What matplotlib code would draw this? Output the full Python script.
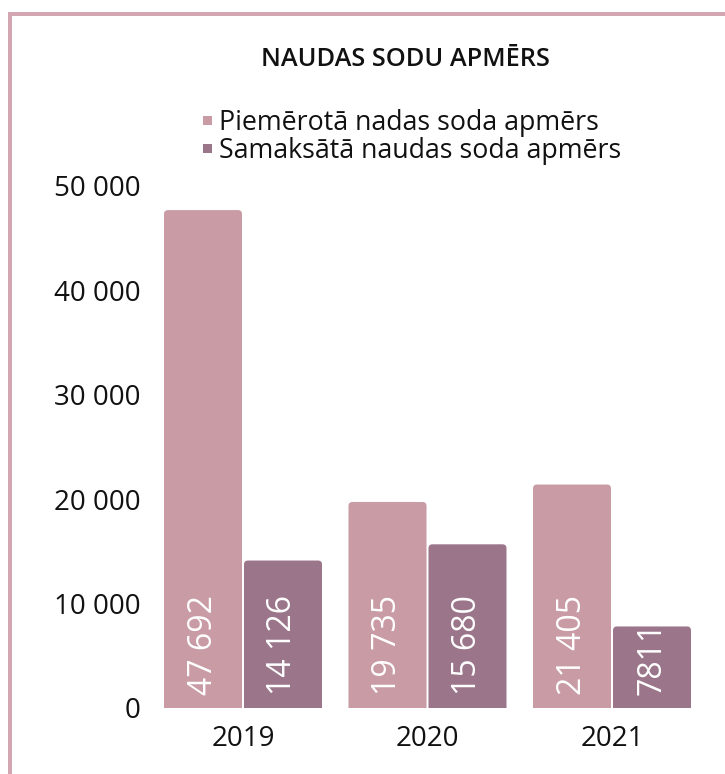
import matplotlib
matplotlib.use("Agg")
import matplotlib.pyplot as plt
from matplotlib.patches import FancyBboxPatch, Rectangle
from matplotlib.lines import Line2D
import numpy as np

years = ["2019", "2020", "2021"]
series_names = ["Piemērotā nadas soda apmērs", "Samaksātā naudas soda apmērs"]
applied = [47692, 19735, 21405]
paid = [14126, 15680, 7811]
applied_labels = ["47 692", "19 735", "21 405"]
paid_labels = ["14 126", "15 680", "7811"]
yticks = [0, 10000, 20000, 30000, 40000, 50000]
ytick_labels = ["0", "10 000", "20 000", "30 000", "40 000", "50 000"]
title = "NAUDAS SODU APMĒRS"

C_APPLIED = "#c89ba5"
C_PAID = "#9b768a"
C_BORDER = "#d3a7b1"
colors = [C_APPLIED, C_PAID]

plt.rcParams["font.family"] = ["Open Sans", "DejaVu Sans"]

W, H = 725, 774
fig = plt.figure(figsize=(W / 100, H / 100), dpi=100)
ax = fig.add_axes([150.75 / W, (H - 708) / H, 553.5 / W, 522 / H])

x = np.arange(len(years))
bw = 0.4228
off = 0.2168
bars1 = ax.bar(x - off, applied, bw, color=C_APPLIED, label=series_names[0])
bars2 = ax.bar(x + off, paid, bw, color=C_PAID, label=series_names[1])

ax.set_xlim(-0.5, 2.5)
ax.set_ylim(0, 50000)

# rounded top corners
rx = 4 / 184.5
ry = 4 * 50000 / 522
for cont in (bars1, bars2):
    for r in cont:
        bx, by = r.get_x(), r.get_y()
        w, h = r.get_width(), r.get_height()
        p = FancyBboxPatch((bx, by - 2 * ry), w, h + 2 * ry,
                           boxstyle=f"round,pad=0,rounding_size={rx}",
                           mutation_aspect=ry / rx,
                           facecolor=r.get_facecolor(), edgecolor="none",
                           clip_on=True)
        ax.add_patch(p)
        r.set_visible(False)

# value labels
for cont, labs in ((bars1, applied_labels), (bars2, paid_labels)):
    for r, lab in zip(cont, labs):
        ax.annotate(lab, (r.get_x() + r.get_width() / 2, 0),
                    xytext=(0, 9.5), textcoords="offset points",
                    rotation=90, ha="center", va="bottom",
                    color="white", fontsize=23)

ax.set_xticks(x)
ax.set_xticklabels(years, fontsize=20, color="#111111")
ax.set_yticks(yticks)
ax.set_yticklabels(ytick_labels, fontsize=20, color="#111111")
ax.tick_params(length=0)
ax.tick_params(axis="y", pad=7.5)
ax.tick_params(axis="x", pad=12.5)
for s in ax.spines.values():
    s.set_visible(False)

# legend (drawn manually: square markers + labels)
leg_baselines = [130, 158]
for name, c, yb in zip(series_names, colors, leg_baselines):
    fig.add_artist(Rectangle((203 / W, 1 - (yb - 5) / H), 9 / W, 9 / H,
                             transform=fig.transFigure, facecolor=c,
                             edgecolor="none"))
    fig.text(219 / W, 1 - yb / H, name, ha="left", va="baseline",
             fontsize=19.3, color="#111111")

# title
fig.text(405 / W, 1 - 66 / H, title, ha="center", va="baseline",
         fontsize=18.3, fontweight="semibold", color="#111111")

# border lines
fig.add_artist(Line2D([10 / W, 10 / W], [0, 1 - 12 / H], color=C_BORDER,
                      lw=4 * 0.72, solid_capstyle="butt"))
fig.add_artist(Line2D([8 / W, 1], [1 - 14 / H, 1 - 14 / H], color=C_BORDER,
                      lw=4 * 0.72, solid_capstyle="butt"))

fig.savefig("out.png", dpi=100, facecolor="white")
